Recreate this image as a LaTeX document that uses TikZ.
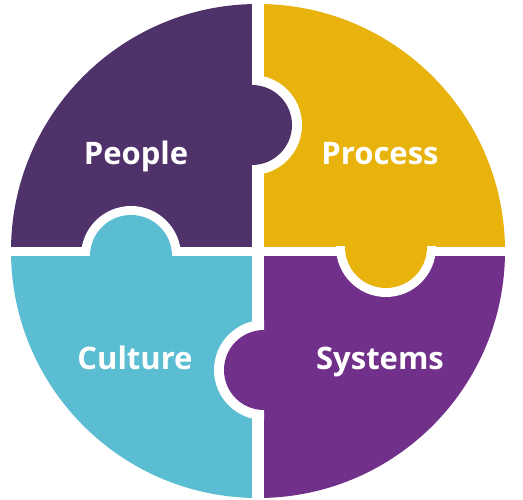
\documentclass[tikz,border=0pt]{standalone}
\usepackage{fontspec}
\setmainfont{Open Sans}
\definecolor{cpeople}{HTML}{50326A}
\definecolor{cprocess}{HTML}{E8B30C}
\definecolor{cculture}{HTML}{5BBDD1}
\definecolor{csystems}{HTML}{71308A}
\tikzset{
  lbl/.style={text=white, font=\fontsize{31}{31}\selectfont\bfseries, anchor=base, inner sep=0pt},
}
\begin{document}
\begin{tikzpicture}[x=1pt,y=-1pt]
\fill[white] (0,0) rectangle (523,500);
\useasboundingbox (0,0) rectangle (523,500);
\coordinate (c) at (258,251);
% quadrants
\begin{scope}
\clip (c) circle (247);
\fill[cpeople] (0,0) rectangle (252,247);
\fill[cprocess] (264,0) rectangle (523,247);
\fill[cculture] (0,256) rectangle (252,500);
\fill[csystems] (264,256) rectangle (523,500);
\end{scope}
% People knob (into Process)
\coordinate (kp) at (252,125);
\begin{scope}\clip (252,0) rectangle (523,247); \fill[white] (kp) circle (50); \end{scope}
\fill[cpeople] (kp) circle (40);
% Culture knob (into People)
\coordinate (kc) at (131,256);
\begin{scope}\clip (0,0) rectangle (252,256); \fill[white] (kc) circle (50); \end{scope}
\fill[cculture] (kc) circle (41);
% Process knob (into Systems)
\coordinate (kr) at (386,247);
\begin{scope}\clip (264,247) rectangle (523,500); \fill[white] (kr) circle (50); \end{scope}
\fill[cprocess] (kr) circle (41);
% Systems knob (into Culture)
\coordinate (ks) at (264,370);
\begin{scope}\clip (0,256) rectangle (264,500); \fill[white] (ks) circle (50); \end{scope}
\fill[csystems] (ks) circle (40);
% labels
\node[lbl] (people) at (136,165) {People};
\node[lbl] (process) at (380,165) {Process};
\node[lbl] (culture) at (135,370) {Culture};
\node[lbl] (systems) at (380,370) {Systems};
\end{tikzpicture}
\end{document}
